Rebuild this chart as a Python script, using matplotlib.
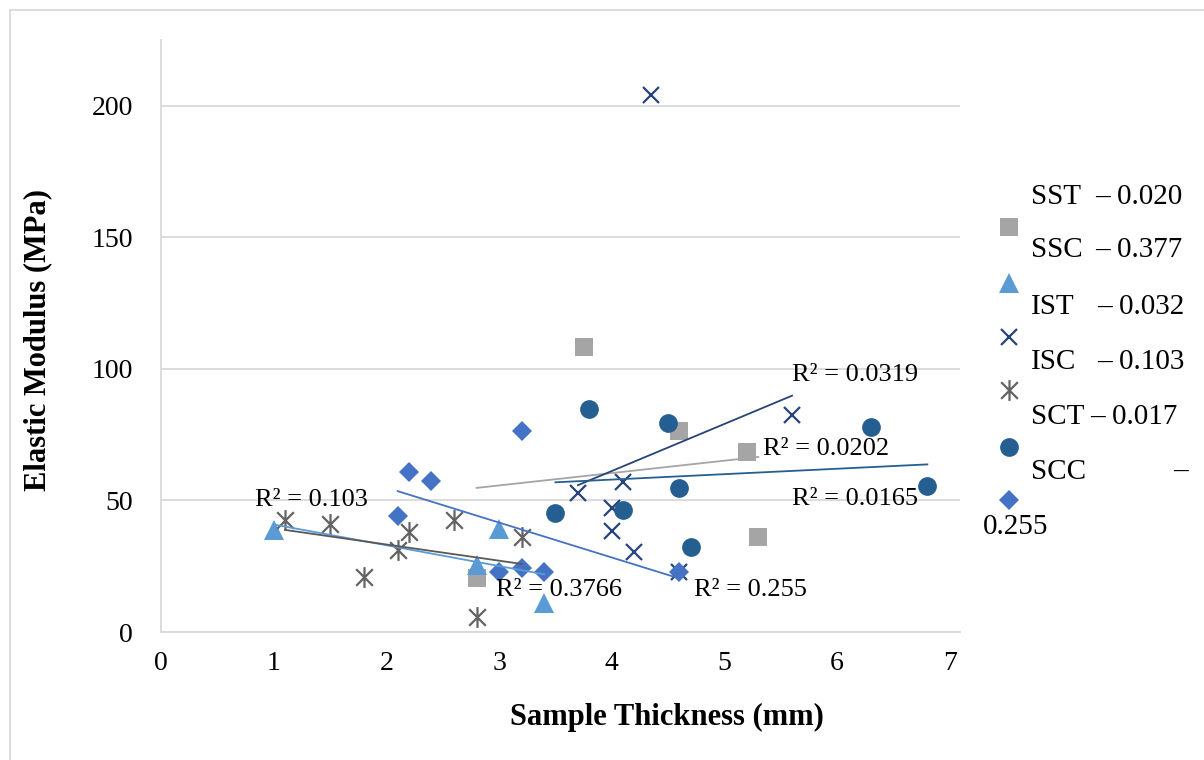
import numpy as np
import matplotlib
matplotlib.use("Agg")
import matplotlib.pyplot as plt
from matplotlib.lines import Line2D
from matplotlib.patches import Rectangle
from matplotlib.path import Path

plt.rcParams['font.family'] = ['Liberation Serif', 'DejaVu Serif']

# ---- data ----
series_names = ["SST", "SSC", "IST", "ISC", "SCT", "SCC"]
legend_values = ["– 0.020", "– 0.377", "– 0.032", "– 0.103", "– 0.017", "–"]

SST_x = [3.75, 4.6, 5.2, 5.3, 2.8]
SST_y = [108.4, 76.4, 68.4, 36.1, 20.5]
SSC_x = [1.0, 3.0, 2.8, 3.4]
SSC_y = [38.8, 39.2, 25.5, 11.0]
IST_x = [3.7, 4.1, 4.0, 4.0, 4.2, 4.6, 5.6, 4.35]
IST_y = [52.9, 57.0, 47.1, 38.4, 30.4, 22.8, 82.5, 204.0]
ISC_x = [1.1, 1.5, 1.8, 2.1, 2.2, 2.6, 3.2, 2.8]
ISC_y = [42.6, 41.0, 20.9, 31.2, 38.0, 42.6, 36.1, 5.7]
SCT_x = [3.8, 4.5, 3.5, 4.6, 4.1, 4.7, 6.3, 6.8]
SCT_y = [84.8, 79.5, 45.2, 54.8, 46.4, 32.3, 77.9, 55.5]
SCC_x = [3.2, 2.2, 2.4, 2.1, 3.0, 3.2, 3.4, 4.6]
SCC_y = [76.4, 60.8, 57.4, 44.1, 22.8, 24.3, 22.8, 22.8]

r2_labels = ["R² = 0.0202", "R² = 0.3766", "R² = 0.0319", "R² = 0.103", "R² = 0.0165", "R² = 0.255"]

x_ticks = [0, 1, 2, 3, 4, 5, 6, 7]
y_ticks = [0, 50, 100, 150, 200]

# ---- styles ----
asterisk = Path([(0, -1), (0, 1), (-0.8, -0.8), (0.8, 0.8), (-0.8, 0.8), (0.8, -0.8)],
                [Path.MOVETO, Path.LINETO, Path.MOVETO, Path.LINETO, Path.MOVETO, Path.LINETO])
styles = {
    "SST": dict(marker='s', color='#A5A5A5', ms=13, line='#A5A5A5'),
    "SSC": dict(marker='^', color='#5B9BD5', ms=14, line='#5B9BD5'),
    "IST": dict(marker='x', color='#264478', ms=12, line='#264478'),
    "ISC": dict(marker=asterisk, color='#636363', ms=15, line='#595959'),
    "SCT": dict(marker='o', color='#255E91', ms=13.5, line='#255E91'),
    "SCC": dict(marker='D', color='#4472C4', ms=10.5, line='#4472C4'),
}
data = {"SST": (SST_x, SST_y), "SSC": (SSC_x, SSC_y), "IST": (IST_x, IST_y),
        "ISC": (ISC_x, ISC_y), "SCT": (SCT_x, SCT_y), "SCC": (SCC_x, SCC_y)}
# label anchor positions (data coords, left / center)
r2_pos = {"SST": (5.34, 69.6), "SSC": (2.97, 16.0), "IST": (5.6, 97.7),
          "ISC": (0.83, 50.2), "SCT": (5.6, 50.6), "SCC": (4.73, 16.0)}

W, H = 1204, 760
fig = plt.figure(figsize=(W / 100, H / 100), dpi=100)
ax = fig.add_axes([161 / W, (H - 632) / H, (960 - 161) / W, (632 - 40) / H])


def marker_kw(st):
    if st['marker'] == 'x' or isinstance(st['marker'], Path):
        return dict(marker=st['marker'], ms=st['ms'], mec=st['color'], mfc='none', mew=1.6)
    return dict(marker=st['marker'], ms=st['ms'], mec=st['color'], mfc=st['color'], mew=0)


for name in series_names:
    x, y = data[name]
    ax.plot(x, y, linestyle='none', zorder=3, **marker_kw(styles[name]))

for name, lab in zip(series_names, r2_labels):
    x, y = data[name]
    st = styles[name]
    k, b = np.polyfit(x, y, 1)
    xs = np.array([min(x), max(x)])
    ax.plot(xs, k * xs + b, color=st['line'], lw=1.3, zorder=4)
    px, py = r2_pos[name]
    ax.text(px, py, lab, fontsize=19, ha='left', va='center', color='#000000', zorder=5)

ax.set_xlim(0, 7.09)
ax.set_ylim(0, 225)
ax.set_xticks(x_ticks)
ax.set_yticks(y_ticks)
ax.tick_params(axis='both', length=0, labelsize=20, colors='#000000')
ax.tick_params(axis='x', pad=14)
ax.tick_params(axis='y', pad=20)
ax.grid(axis='y', color='#D9D9D9', lw=1.3)
ax.set_axisbelow(True)
for s in ['top', 'right']:
    ax.spines[s].set_visible(False)
for s in ['left', 'bottom']:
    ax.spines[s].set_color('#D9D9D9')
    ax.spines[s].set_linewidth(1.3)

fig.text(667 / W, 1 - 717 / H, "Sample Thickness (mm)", fontsize=22, fontweight='bold',
         ha='center', va='center')
fig.text(38 / W, 1 - 340 / H, "Elastic Modulus (MPa)", fontsize=22, fontweight='bold',
         ha='center', va='center', rotation=90)

# legend (Excel-style justified text line above each marker)
text_y = [197, 250, 307, 362, 417, 472]
mark_y = [227, 283, 337, 390, 447, 500]
dash_x = [1095, 1095, 1097, 1097, 1090, 1173]
for name, val, ty, my, dx in zip(series_names, legend_values, text_y, mark_y, dash_x):
    st = styles[name]
    fig.text(1031 / W, 1 - ty / H, name, fontsize=21, ha='left', va='center')
    fig.text(dx / W, 1 - ty / H, val, fontsize=21, ha='left', va='center')
    fig.add_artist(Line2D([1009 / W], [1 - my / H], transform=fig.transFigure,
                          linestyle='none', **marker_kw(st)))
fig.text(983 / W, 1 - 527 / H, "0.255", fontsize=21, ha='left', va='center')

fig.add_artist(Rectangle((10 / W, -0.1), 2.0, 1 - 10 / H + 0.1, transform=fig.transFigure,
                         fill=False, edgecolor='#D9D9D9', lw=1.3))

fig.savefig("out.png", dpi=100)
